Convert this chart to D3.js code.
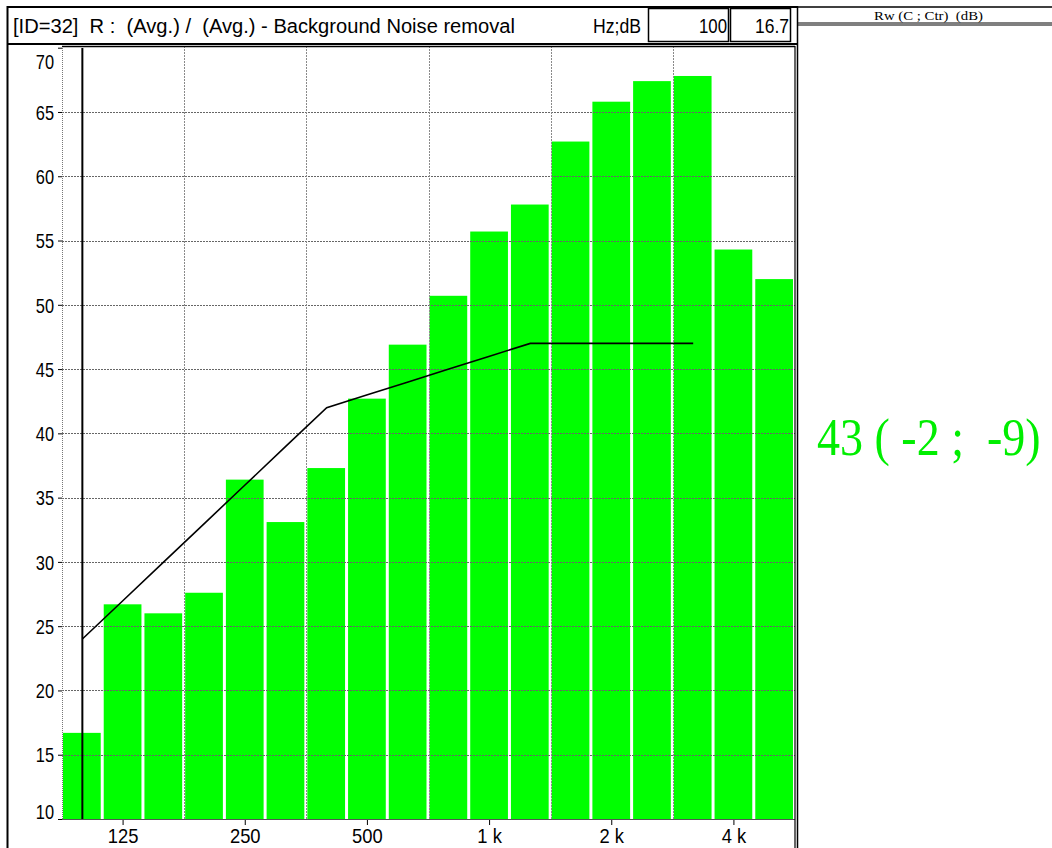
<!DOCTYPE html>
<html><head><meta charset="utf-8">
<script src="https://cdn.jsdelivr.net/npm/d3@7"></script>
<style>body{margin:0;background:#fff}svg{display:block}</style>
</head><body>
<script>
const freqs = ["100","125","160","200","250","315","400","500","630","800","1000","1250","1600","2000","2500","3150","4000","5000"];
const values = [16.7,26.7,26.0,27.6,36.4,33.1,37.3,42.7,46.9,50.7,55.7,57.8,62.7,65.8,67.4,67.8,54.3,52.0];
const refFreqs = ["100","125","160","200","250","315","400","500","630","800","1000","1250","1600","2000","2500","3150"];
const refValues = [24,27,30,33,36,39,42,43,44,45,46,47,47,47,47,47];
const yTicks = [10,15,20,25,30,35,40,45,50,55,60,65,70];
const xTickFreqs = ["125","250","500","1000","2000","4000"];
const xTickLabels = ["125","250","500","1 k","2 k","4 k"];
const gridFreqs = ["200","400","800","1600","3150"];
const titleText = "[ID=32]  R :  (Avg.) /  (Avg.) - Background Noise removal";
const unitText = "Hz;dB";
const cursorFreq = "100";
const cursorValue = "16.7";
const resultHeader = "Rw (C ; Ctr)  (dB)";
const resultText = "43 ( -2 ;  -9)";

const W = 1052, H = 848;
const svg = d3.select("body").append("svg").attr("width", W).attr("height", H);
const SANS = "'Liberation Sans', Arial, sans-serif";
const SERIF = "'Liberation Serif', 'Times New Roman', serif";

const L = 62, R = 795, T = 47.7, B = 819;
const x = d3.scaleBand().domain(freqs).range([L, R]);
const y = d3.scaleLinear().domain([10, 70]).range([B, T]);
const bw = x.bandwidth();

// bars
svg.append("g").selectAll("rect").data(freqs).join("rect")
  .attr("x", d => x(d) + 1)
  .attr("width", bw - 3)
  .attr("y", (d, i) => y(values[i]))
  .attr("height", (d, i) => B - y(values[i]))
  .attr("fill", "#00ff00");

// horizontal grid
svg.append("g").selectAll("line").data(yTicks.filter(v => v > 10 && v < 70)).join("line")
  .attr("x1", L).attr("x2", R)
  .attr("y1", d => Math.round(y(d)) + 0.5).attr("y2", d => Math.round(y(d)) + 0.5)
  .attr("stroke", "#666").attr("stroke-width", 1).attr("stroke-dasharray", "2,1");

// vertical grid
svg.append("g").selectAll("line").data(gridFreqs).join("line")
  .attr("x1", d => Math.round(x(d)) + 0.5).attr("x2", d => Math.round(x(d)) + 0.5)
  .attr("y1", 46).attr("y2", B)
  .attr("stroke", "#8a8a8a").attr("stroke-width", 1).attr("stroke-dasharray", "2,1");

// left dotted edge
svg.append("line").attr("x1", L + 0.5).attr("x2", L + 0.5).attr("y1", 46).attr("y2", B)
  .attr("stroke", "#777").attr("stroke-dasharray", "1,1");

// reference curve
const line = d3.line().x((d, i) => x(refFreqs[i]) + bw / 2).y(d => y(d));
svg.append("path").datum(refValues).attr("d", line)
  .attr("fill", "none").attr("stroke", "#000").attr("stroke-width", 1.6);

// cursor line
svg.append("line")
  .attr("x1", x(cursorFreq) + bw / 2).attr("x2", x(cursorFreq) + bw / 2)
  .attr("y1", 48).attr("y2", B)
  .attr("stroke", "#000").attr("stroke-width", 2);

// y axis
const yAxis = svg.append("g").attr("transform", `translate(${L},0)`)
  .call(d3.axisLeft(y).tickValues(yTicks).tickSize(4).tickSizeOuter(0));
yAxis.select(".domain").remove();
yAxis.selectAll("line").attr("stroke", "#000");
yAxis.selectAll("text")
  .attr("font-family", SANS).attr("font-size", 20).attr("fill", "#000")
  .attr("transform", "scale(0.82,1)")
  .attr("x", -8 / 0.82)
  .attr("dy", d => d === 70 ? "1.02em" : d === 10 ? "-0.05em" : "0.36em");

// x axis
const xAxis = svg.append("g").attr("transform", `translate(0,${B})`)
  .call(d3.axisBottom(x).tickValues(xTickFreqs).tickSize(6).tickSizeOuter(0)
    .tickFormat(d => xTickLabels[xTickFreqs.indexOf(d)]));
xAxis.select(".domain").attr("stroke", "#555").attr("d", `M${L},0.5H${R}`);
xAxis.selectAll(".tick line").attr("stroke", "#000").attr("y1", 1);
xAxis.selectAll("text")
  .attr("font-family", SANS).attr("font-size", 20).attr("fill", "#000")
  .attr("transform", "scale(0.92,1)")
  .attr("y", 24).attr("dy", 0);

// frames
const stroke = (x1, y1, x2, y2, w) => svg.append("line")
  .attr("x1", x1).attr("y1", y1).attr("x2", x2).attr("y2", y2)
  .attr("stroke", "#000").attr("stroke-width", w || 1.5);
stroke(7.5, 6, 7.5, H, 2);
stroke(7, 7, 797, 7, 2);
stroke(7, 44, 797, 44, 2);
stroke(L, 46.5, R, 46.5, 1.5);
stroke(795, 46, 795, H, 1.2);
stroke(797.5, 6, 797.5, H, 1.5);
stroke(797, 7, W, 7, 1.5);
stroke(797, 23, W, 23, 1);
stroke(797, 25, W, 25, 1);

// header boxes
svg.append("rect").attr("x", 648.5).attr("y", 8.5).attr("width", 80).attr("height", 33)
  .attr("fill", "none").attr("stroke", "#000").attr("stroke-width", 1.5);
svg.append("rect").attr("x", 730.5).attr("y", 8.5).attr("width", 60).attr("height", 33)
  .attr("fill", "none").attr("stroke", "#000").attr("stroke-width", 1.5);

// header texts
svg.append("text").attr("x", 13).attr("y", 33)
  .attr("font-family", SANS).attr("font-size", 20)
  .attr("textLength", 502).attr("lengthAdjust", "spacingAndGlyphs")
  .style("white-space", "pre").text(titleText);
svg.append("text").attr("x", 641).attr("y", 33).attr("text-anchor", "end")
  .attr("font-family", SANS).attr("font-size", 20)
  .attr("textLength", 48).attr("lengthAdjust", "spacingAndGlyphs").text(unitText);
svg.append("text").attr("x", 727).attr("y", 33).attr("text-anchor", "end")
  .attr("font-family", SANS).attr("font-size", 20)
  .attr("textLength", 28).attr("lengthAdjust", "spacingAndGlyphs").text(cursorFreq);
svg.append("text").attr("x", 789).attr("y", 33).attr("text-anchor", "end")
  .attr("font-family", SANS).attr("font-size", 20)
  .attr("textLength", 34).attr("lengthAdjust", "spacingAndGlyphs").text(cursorValue);

// right panel
svg.append("text").attr("x", 874).attr("y", 20)
  .attr("font-family", SERIF).attr("font-size", 13)
  .attr("textLength", 109).attr("lengthAdjust", "spacingAndGlyphs")
  .style("white-space", "pre").text(resultHeader);
svg.append("text").attr("transform", "translate(817,455) scale(1,1.13)")
  .attr("x", 0).attr("y", 0)
  .attr("font-family", SERIF).attr("font-size", 46).attr("fill", "#00ee00")
  .style("white-space", "pre").text(resultText);
</script>
</body></html>
